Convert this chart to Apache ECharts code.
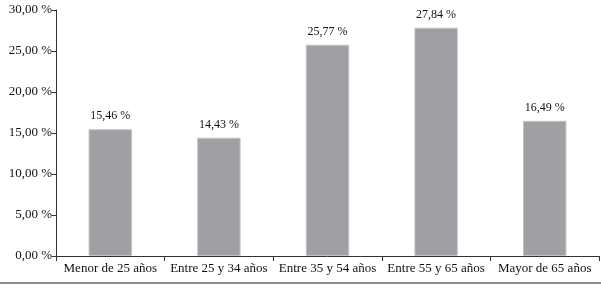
<!DOCTYPE html>
<html><head><meta charset="utf-8">
<script src="https://cdn.jsdelivr.net/npm/echarts@6/dist/echarts.min.js"></script>
<style>html,body{margin:0;padding:0;background:#fff}#c{width:601px;height:290px}</style>
</head><body><div id="c"></div>
<script>
const categories = ['Menor de 25 años','Entre 25 y 34 años','Entre 35 y 54 años','Entre 55 y 65 años','Mayor de 65 años'];
const values = [15.46, 14.43, 25.77, 27.84, 16.49];
const fmt = v => v.toFixed(2).replace('.', ',') + ' %';
const chart = echarts.init(document.getElementById('c'));
chart.setOption({
  animation: false,
  textStyle: {fontFamily: 'Liberation Serif'},
  grid: {left: 56, right: 2, top: 10, bottom: 34, containLabel: false},
  xAxis: {
    type: 'category', data: categories,
    axisLine: {lineStyle: {color: '#333', width: 1}},
    axisTick: {show: true, length: 5, lineStyle: {color: '#333'}},
    axisLabel: {color: '#111', fontSize: 13, fontFamily: 'Liberation Serif', margin: 6, interval: 0}
  },
  yAxis: {
    type: 'value', min: 0, max: 30, interval: 5,
    axisLine: {show: true, lineStyle: {color: '#333', width: 1}},
    axisTick: {show: true, length: 4, lineStyle: {color: '#333'}},
    splitLine: {show: false},
    axisLabel: {color: '#111', fontSize: 13, fontFamily: 'Liberation Serif', margin: 4, formatter: v => fmt(v)}
  },
  series: [{
    type: 'bar', data: values, barWidth: '40%',
    itemStyle: {color: '#a0a0a4', borderColor: '#c4c4c6', borderWidth: 1},
    label: {show: true, position: 'top', distance: 7, color: '#111', fontSize: 12, fontFamily: 'Liberation Serif', formatter: p => fmt(p.value)}
  }],
  graphic: [{type: 'line', shape: {x1: 0, y1: 283, x2: 601, y2: 283}, style: {stroke: '#666', lineWidth: 1.5}}]
});
</script></body></html>
